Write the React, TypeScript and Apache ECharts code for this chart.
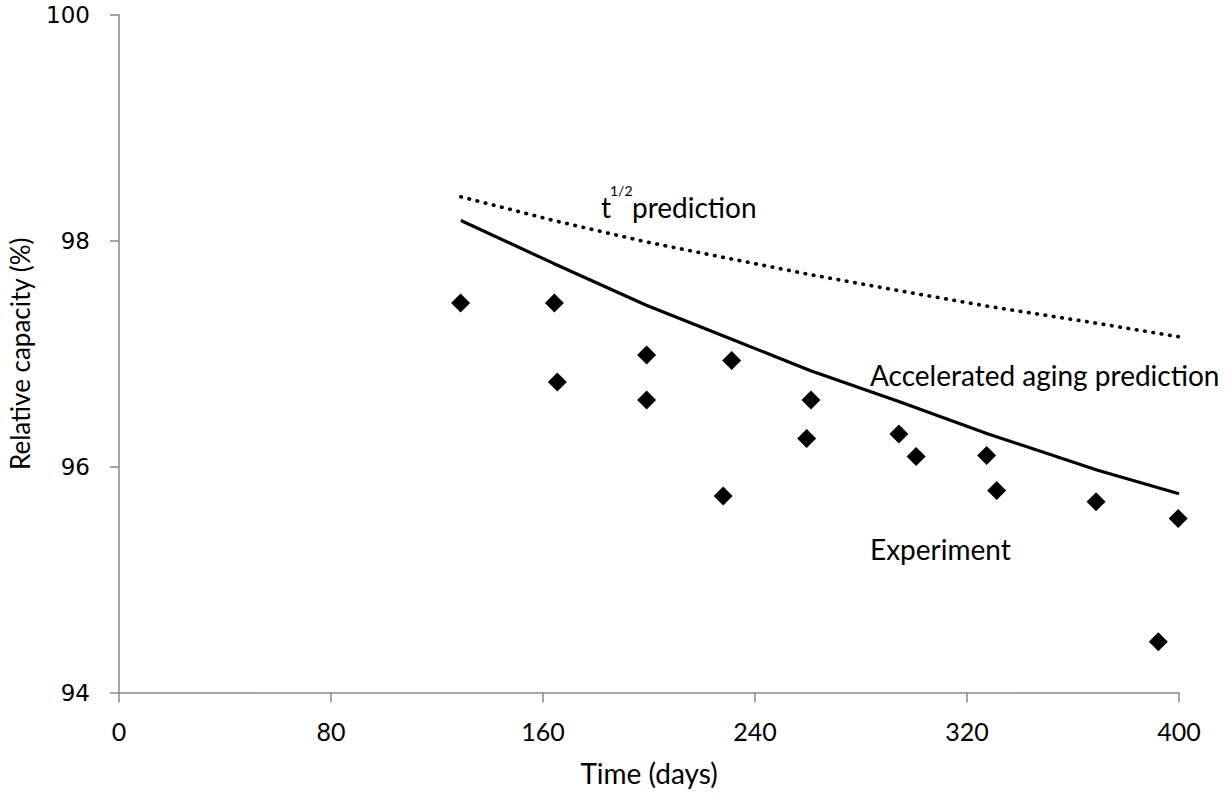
import React, { useEffect, useRef } from "react";
import * as echarts from "echarts";

// Experimental data (days, relative capacity %)
const expDays = [128.9, 164.3, 165.4, 199.1, 199.1, 228.0, 231.2, 259.5, 261.1, 294.3, 300.8, 327.4, 331.2, 368.7, 392.2, 399.7];
const expCap = [97.45, 97.45, 96.75, 96.99, 96.59, 95.74, 96.94, 96.25, 96.59, 96.29, 96.09, 96.10, 95.79, 95.69, 94.45, 95.54];

// Prediction curves
const predDays = [129, 164, 199, 231, 261, 294, 328, 369, 400];
const accelCap = [98.18, 97.80, 97.43, 97.13, 96.85, 96.58, 96.29, 95.97, 95.76];
const sqrtCap = [98.39, 98.18, 97.99, 97.84, 97.70, 97.56, 97.42, 97.27, 97.15];

const xTicks = [0, 80, 160, 240, 320, 400];
const yTicks = [94, 96, 98, 100];

const AXIS_COLOR = "#888888";
const FONT = "Lato, 'Open Sans', sans-serif";

export default function App() {
  const ref = useRef<HTMLDivElement>(null);

  useEffect(() => {
    if (!ref.current) return;
    const chart = echarts.init(ref.current, undefined, { renderer: "svg" });
    const pair = (xs: number[], ys: number[]) => xs.map((x, i) => [x, ys[i]]);
    chart.setOption({
      animation: false,
      backgroundColor: "#ffffff",
      grid: { left: 119, top: 15, right: 52, bottom: 102.5, containLabel: false, outerBoundsMode: "none" },
      xAxis: {
        type: "value",
        min: xTicks[0],
        max: xTicks[xTicks.length - 1],
        interval: xTicks[1] - xTicks[0],
        name: "Time (days)",
        nameLocation: "middle",
        nameGap: 66,
        nameTextStyle: { fontFamily: FONT, fontSize: 28, color: "#000" },
        axisLine: { show: true, onZero: false, lineStyle: { color: AXIS_COLOR, width: 1.5 } },
        axisTick: { show: true, inside: false, length: 10, lineStyle: { color: AXIS_COLOR, width: 1.5 } },
        axisLabel: { margin: 26, fontFamily: FONT, fontSize: 25, color: "#000" },
        splitLine: { show: false },
      },
      yAxis: {
        type: "value",
        min: yTicks[0],
        max: yTicks[yTicks.length - 1],
        interval: yTicks[1] - yTicks[0],
        name: "Relative capacity (%)",
        nameLocation: "middle",
        nameGap: 86,
        nameRotate: 90,
        nameTextStyle: { fontFamily: FONT, fontSize: 26, color: "#000" },
        axisLine: { show: true, onZero: false, lineStyle: { color: AXIS_COLOR, width: 1.5 } },
        axisTick: { show: true, inside: false, length: 9, lineStyle: { color: AXIS_COLOR, width: 1.5 } },
        axisLabel: { margin: 29, fontFamily: "'DejaVu Sans', sans-serif", fontSize: 23, color: "#000" },
        splitLine: { show: false },
      },
      series: [
        {
          name: "t1/2 prediction",
          type: "line",
          data: pair(predDays, sqrtCap),
          showSymbol: false,
          symbol: "none",
          smooth: false,
          lineStyle: { color: "#000", width: 3.7, type: [0.5, 7.9], cap: "round" },
          z: 2,
        },
        {
          name: "Accelerated aging prediction",
          type: "line",
          data: pair(predDays, accelCap),
          showSymbol: false,
          symbol: "none",
          smooth: false,
          lineStyle: { color: "#000", width: 3.2 },
          z: 2,
        },
        {
          name: "Experiment",
          type: "scatter",
          data: pair(expDays, expCap),
          symbol: "diamond",
          symbolSize: 19,
          itemStyle: { color: "#000", opacity: 1 },
          z: 3,
        },
      ],
      graphic: [
        { type: "text", x: 601, y: 207, style: { text: "t", fontFamily: FONT, fontSize: 28, fill: "#000", align: "left", verticalAlign: "middle" } },
        { type: "text", x: 610, y: 190, style: { text: "1/2", fontFamily: FONT, fontSize: 14, fill: "#000", align: "left", verticalAlign: "middle" } },
        { type: "text", x: 632, y: 207, style: { text: "prediction", fontFamily: FONT, fontSize: 28, fill: "#000", align: "left", verticalAlign: "middle" } },
        { type: "text", x: 870, y: 375, style: { text: "Accelerated aging prediction", fontFamily: FONT, fontSize: 28, fill: "#000", align: "left", verticalAlign: "middle" } },
        { type: "text", x: 870, y: 549, style: { text: "Experiment", fontFamily: FONT, fontSize: 28, fill: "#000", align: "left", verticalAlign: "middle" } },
      ],
    });
    return () => chart.dispose();
  }, []);

  return (
    <div
      ref={ref}
      style={{ position: "absolute", left: 0, top: 0, width: 1231, height: 795, background: "#fff" }}
    />
  );
}
